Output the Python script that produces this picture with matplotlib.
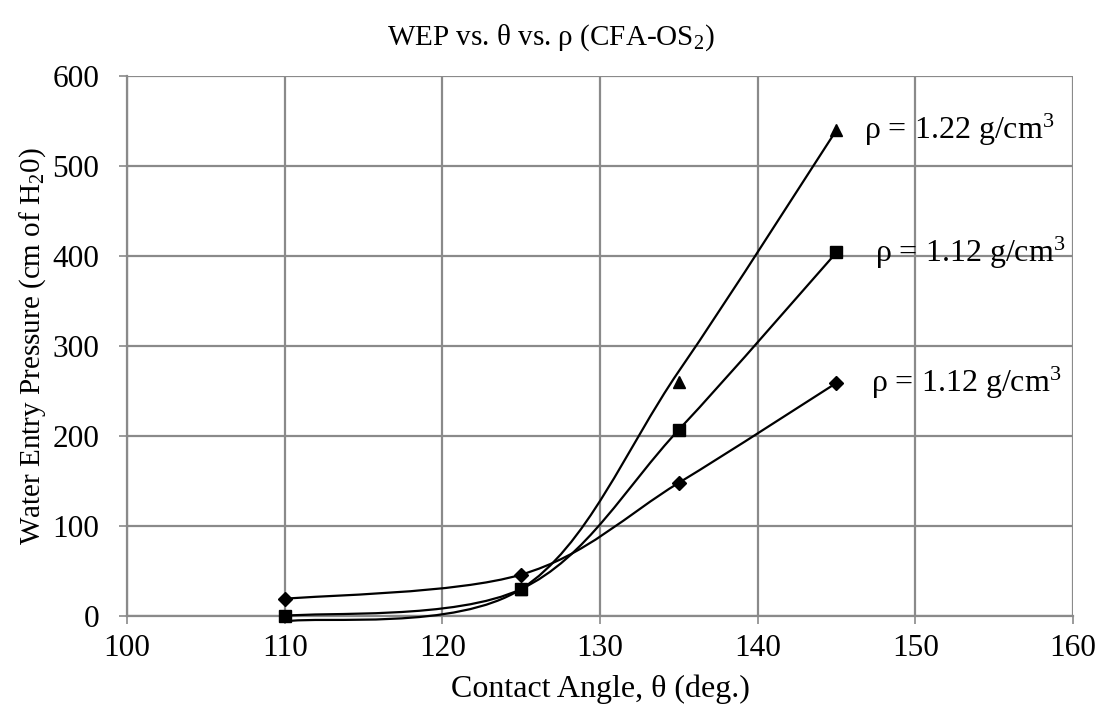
import numpy as np
import matplotlib
matplotlib.use("Agg")
import matplotlib.pyplot as plt
from matplotlib.path import Path
from matplotlib.patches import PathPatch

plt.rcParams['font.family'] = ['Liberation Serif', 'DejaVu Serif']
plt.rcParams['mathtext.fontset'] = 'custom'
plt.rcParams['mathtext.rm'] = 'Liberation Serif'
plt.rcParams['mathtext.it'] = 'Liberation Serif:italic'

angles = [110, 125, 135, 145]
# marker values
wep_122 = [-4, 30, 260, 540]
wep_112a = [0, 30, 207, 404]
wep_112b = [19, 46, 148, 259]
# smoothed line of the 1.22 series as drawn in the chart (it misses its 135° marker)
wep_122_line = [-6, 30, 272, 540]
labels = ["ρ = 1.22 g/cm$^3$", "ρ = 1.12 g/cm$^3$", "ρ = 1.12 g/cm$^3$"]
markers = ['^', 's', 'D']
msizes = [9, 9, 7]
xticks = [100, 110, 120, 130, 140, 150, 160]
yticks = [0, 100, 200, 300, 400, 500, 600]

fig = plt.figure(figsize=(11.01, 7.15), dpi=100)
ax = fig.add_axes([127/1101, 1-616/715, (1073-127)/1101, (616-76)/715])
ax.set_xlim(100, 160)
ax.set_ylim(0, 600)
ax.set_xticks(xticks)
ax.set_yticks(yticks)
ax.grid(True, color='#8a8a8a', linewidth=1.6)
ax.set_axisbelow(True)
for s in ['top', 'right']:
    ax.spines[s].set_visible(False)
for s in ['left', 'bottom']:
    ax.spines[s].set_color('#8a8a8a')
    ax.spines[s].set_linewidth(1.6)
ax.tick_params(axis='both', direction='out', length=6, width=1.2, color='#8a8a8a',
               labelsize=22.5)
ax.tick_params(axis='x', pad=7)
ax.tick_params(axis='y', pad=14)

def smooth_path(xs, ys):
    pts = ax.transData.transform(np.column_stack([xs, ys]))
    n = len(pts)
    verts = [pts[0]]
    codes = [Path.MOVETO]
    for i in range(n - 1):
        p0 = pts[max(i - 1, 0)]
        p1 = pts[i]
        p2 = pts[i + 1]
        p3 = pts[min(i + 2, n - 1)]
        c1 = p1 + (p2 - p0) / 6.0
        c2 = p2 - (p3 - p1) / 6.0
        verts += [c1, c2, p2]
        codes += [Path.CURVE4] * 3
    data_verts = ax.transData.inverted().transform(np.array(verts))
    return Path(data_verts, codes)

line_series = [wep_122_line, wep_112a, wep_112b]
for ys in line_series:
    p = smooth_path(angles, ys)
    ax.add_patch(PathPatch(p, facecolor='none', edgecolor='black', linewidth=1.6,
                           clip_on=False, zorder=3))

series = [wep_122, wep_112a, wep_112b]
clips = [True, False, False]
for ys, mk, ms, cl in zip(series, markers, msizes, clips):
    ax.plot(angles, ys, linestyle='none', marker=mk, markersize=ms, color='black',
            clip_on=cl, zorder=4)

label_offsets = [(20, 0), (28, 0), (25, 0)]
for ys, lab, off in zip(series, labels, label_offsets):
    ax.annotate(lab, xy=(angles[-1], ys[-1]), xytext=off, textcoords='offset points',
                ha='left', va='center', fontsize=23)

ax.set_xlabel('Contact Angle, θ (deg.)', fontsize=23, labelpad=8)
ax.set_ylabel('Water Entry Pressure (cm of H$_2$0)', fontsize=21, labelpad=3)
fig.text(0.5, 1-38/715, 'WEP vs. θ vs. ρ (CFA-OS$_2$)', ha='center', va='center', fontsize=21)

fig.savefig('out.png', dpi=100)
